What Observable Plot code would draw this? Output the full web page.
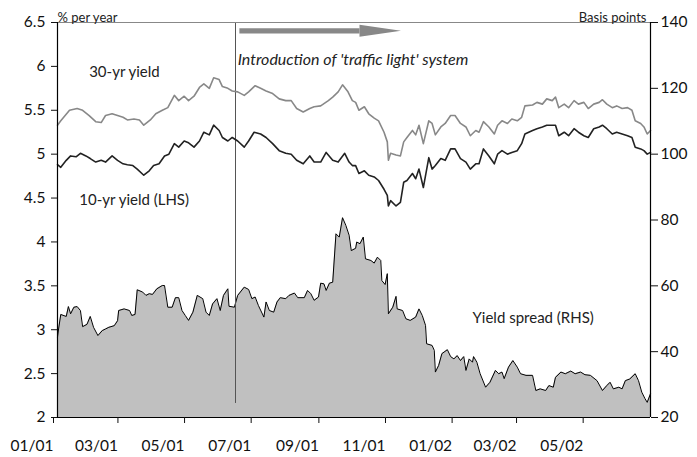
<!DOCTYPE html>
<html><head><meta charset="utf-8">
<script src="https://cdn.jsdelivr.net/npm/d3@7"></script>
<script src="https://cdn.jsdelivr.net/npm/@observablehq/plot@0.6"></script>
<style>
html,body{margin:0;padding:0;background:#fff;}
#chart svg{display:block;}
</style></head><body><div id="chart"></div>
<script>
// ---- Data ----
const dates30 = ["2001-01-01","2001-01-04","2001-01-12","2001-01-19","2001-01-24","2001-01-30","2001-02-05","2001-02-10","2001-02-14","2001-02-20","2001-02-25","2001-03-02","2001-03-06","2001-03-12","2001-03-17","2001-03-21","2001-03-27","2001-04-01","2001-04-07","2001-04-12","2001-04-18","2001-04-22","2001-04-27","2001-05-01","2001-05-06","2001-05-11","2001-05-15","2001-05-20","2001-05-24","2001-05-29","2001-06-01","2001-06-06","2001-06-10","2001-06-15","2001-06-21","2001-06-25","2001-07-01","2001-07-06","2001-07-11","2001-07-17","2001-07-23","2001-07-29","2001-08-03","2001-08-08","2001-08-14","2001-08-20","2001-08-24","2001-08-30","2001-09-06","2001-09-10","2001-09-15","2001-09-19","2001-09-24","2001-09-28","2001-10-01","2001-10-04","2001-10-09","2001-10-13","2001-10-18","2001-10-22","2001-10-27","2001-10-30","2001-10-31","2001-11-02","2001-11-07","2001-11-11","2001-11-14","2001-11-17","2001-11-22","2001-11-25","2001-11-28","2001-12-02","2001-12-07","2001-12-10","2001-12-13","2001-12-18","2001-12-22","2001-12-27","2001-12-31","2002-01-05","2002-01-10","2002-01-14","2002-01-19","2002-01-22","2002-01-26","2002-01-31","2002-02-05","2002-02-08","2002-02-12","2002-02-17","2002-02-21","2002-02-26","2002-03-02","2002-03-05","2002-03-12","2002-03-16","2002-03-21","2002-03-25","2002-03-30","2002-04-02","2002-04-05","2002-04-10","2002-04-14","2002-04-19","2002-04-23","2002-04-28","2002-05-02","2002-05-07","2002-05-12","2002-05-15","2002-05-19","2002-05-24","2002-05-28","2002-06-02","2002-06-07","2002-06-11","2002-06-14","2002-06-19","2002-06-22","2002-06-25","2002-06-28"];
const yield30 = [5.33,5.38,5.50,5.52,5.50,5.44,5.37,5.36,5.44,5.46,5.44,5.42,5.39,5.40,5.39,5.33,5.39,5.46,5.50,5.53,5.67,5.61,5.66,5.61,5.66,5.76,5.80,5.75,5.87,5.85,5.77,5.75,5.72,5.71,5.67,5.71,5.78,5.75,5.72,5.69,5.63,5.61,5.61,5.52,5.48,5.52,5.54,5.55,5.61,5.65,5.71,5.79,5.71,5.61,5.59,5.50,5.54,5.46,5.41,5.38,5.25,5.14,4.93,5.01,4.99,4.98,5.14,5.19,5.27,5.22,5.33,5.12,5.38,5.35,5.22,5.31,5.35,5.44,5.44,5.35,5.31,5.21,5.27,5.25,5.37,5.31,5.23,5.33,5.38,5.35,5.40,5.38,5.42,5.55,5.56,5.59,5.57,5.63,5.61,5.65,5.53,5.57,5.53,5.61,5.57,5.59,5.52,5.57,5.59,5.62,5.57,5.53,5.55,5.52,5.53,5.50,5.38,5.35,5.31,5.23,5.27];

const dates10 = ["2001-01-01","2001-01-04","2001-01-09","2001-01-13","2001-01-18","2001-01-22","2001-01-27","2001-01-31","2001-02-05","2001-02-10","2001-02-14","2001-02-20","2001-02-25","2001-03-02","2001-03-06","2001-03-11","2001-03-15","2001-03-21","2001-03-26","2001-03-30","2001-04-04","2001-04-09","2001-04-13","2001-04-18","2001-04-22","2001-04-27","2001-05-01","2001-05-06","2001-05-11","2001-05-15","2001-05-20","2001-05-24","2001-05-29","2001-06-01","2001-06-06","2001-06-10","2001-06-15","2001-06-21","2001-06-25","2001-06-30","2001-07-06","2001-07-11","2001-07-17","2001-07-23","2001-07-29","2001-08-03","2001-08-08","2001-08-14","2001-08-20","2001-08-24","2001-08-30","2001-09-04","2001-09-10","2001-09-15","2001-09-21","2001-09-25","2001-09-28","2001-10-01","2001-10-04","2001-10-09","2001-10-13","2001-10-18","2001-10-22","2001-10-27","2001-10-30","2001-10-31","2001-11-02","2001-11-07","2001-11-11","2001-11-14","2001-11-17","2001-11-22","2001-11-25","2001-11-28","2001-12-02","2001-12-07","2001-12-10","2001-12-13","2001-12-18","2001-12-22","2001-12-27","2001-12-31","2002-01-05","2002-01-10","2002-01-14","2002-01-19","2002-01-22","2002-01-26","2002-01-31","2002-02-05","2002-02-08","2002-02-12","2002-02-17","2002-02-21","2002-02-26","2002-03-02","2002-03-05","2002-03-12","2002-03-16","2002-03-21","2002-03-25","2002-03-30","2002-04-02","2002-04-05","2002-04-10","2002-04-14","2002-04-19","2002-04-23","2002-04-28","2002-05-02","2002-05-07","2002-05-12","2002-05-15","2002-05-19","2002-05-24","2002-05-28","2002-06-02","2002-06-07","2002-06-11","2002-06-14","2002-06-19","2002-06-22","2002-06-25","2002-06-28"];
const yield10 = [4.88,4.85,4.93,4.98,4.97,5.01,4.98,4.95,4.91,4.93,4.91,4.98,4.93,4.89,4.88,4.87,4.83,4.76,4.81,4.87,4.89,4.98,5.00,5.12,5.08,5.15,5.13,5.08,5.15,5.25,5.22,5.33,5.27,5.19,5.15,5.19,5.15,5.08,5.15,5.25,5.23,5.19,5.12,5.04,5.01,5.00,4.93,4.89,4.98,4.91,4.91,5.02,4.93,4.91,5.01,4.91,4.87,4.87,4.78,4.81,4.76,4.74,4.70,4.60,4.53,4.41,4.47,4.41,4.45,4.68,4.70,4.78,4.72,4.83,4.62,4.96,4.83,4.87,4.95,4.93,5.06,5.06,4.95,4.91,4.83,4.89,4.89,5.06,4.98,4.89,5.00,5.04,5.00,5.02,5.04,5.12,5.23,5.27,5.29,5.31,5.33,5.33,5.33,5.21,5.25,5.21,5.29,5.25,5.21,5.19,5.29,5.31,5.33,5.29,5.23,5.25,5.23,5.21,5.19,5.08,5.06,5.04,5.00,5.02];

const datesSpread = ["2001-01-01","2001-01-02","2001-01-04","2001-01-09","2001-01-11","2001-01-13","2001-01-16","2001-01-19","2001-01-22","2001-01-24","2001-01-28","2001-01-31","2001-02-03","2001-02-07","2001-02-11","2001-02-14","2001-02-17","2001-02-22","2001-02-25","2001-02-26","2001-03-03","2001-03-08","2001-03-10","2001-03-13","2001-03-15","2001-03-20","2001-03-23","2001-03-26","2001-03-29","2001-04-02","2001-04-07","2001-04-09","2001-04-12","2001-04-16","2001-04-19","2001-04-22","2001-04-25","2001-04-28","2001-05-01","2001-05-05","2001-05-09","2001-05-14","2001-05-17","2001-05-20","2001-05-23","2001-05-27","2001-05-30","2001-06-02","2001-06-06","2001-06-07","2001-06-12","2001-06-15","2001-06-21","2001-06-25","2001-06-28","2001-07-01","2001-07-04","2001-07-09","2001-07-11","2001-07-14","2001-07-18","2001-07-21","2001-07-24","2001-07-29","2001-08-01","2001-08-06","2001-08-09","2001-08-15","2001-08-18","2001-08-21","2001-08-24","2001-08-28","2001-08-30","2001-09-02","2001-09-04","2001-09-07","2001-09-10","2001-09-13","2001-09-16","2001-09-19","2001-09-22","2001-09-25","2001-09-27","2001-10-01","2001-10-02","2001-10-05","2001-10-08","2001-10-10","2001-10-15","2001-10-18","2001-10-21","2001-10-24","2001-10-25","2001-10-28","2001-10-30","2001-10-31","2001-11-04","2001-11-07","2001-11-08","2001-11-13","2001-11-16","2001-11-20","2001-11-25","2001-11-28","2001-12-01","2001-12-04","2001-12-05","2001-12-10","2001-12-12","2001-12-13","2001-12-16","2001-12-19","2001-12-24","2001-12-27","2001-12-30","2002-01-02","2002-01-05","2002-01-08","2002-01-10","2002-01-13","2002-01-16","2002-01-17","2002-01-20","2002-01-23","2002-01-28","2002-02-01","2002-02-06","2002-02-09","2002-02-12","2002-02-14","2002-02-18","2002-02-22","2002-02-26","2002-03-01","2002-03-06","2002-03-12","2002-03-15","2002-03-19","2002-03-24","2002-03-27","2002-03-31","2002-04-02","2002-04-07","2002-04-11","2002-04-16","2002-04-20","2002-04-25","2002-04-29","2002-05-04","2002-05-10","2002-05-15","2002-05-19","2002-05-22","2002-05-25","2002-05-30","2002-06-02","2002-06-05","2002-06-09","2002-06-14","2002-06-17","2002-06-20","2002-06-23","2002-06-25","2002-06-28"];
const spreadBp = [44.4,46.9,51.3,50.7,53.7,51.5,53.5,53.7,52.5,47.6,48.3,50.7,47.4,44.9,46.4,46.9,47.4,47.9,49.4,52.5,53.0,52.5,51.0,51.3,58.8,58.1,57.1,57.6,57.4,59.1,60.1,60.1,53.5,53.5,56.4,56.4,52.5,51.0,49.5,52.0,57.1,56.1,52.0,51.0,54.5,56.1,52.5,57.1,59.1,53.8,53.5,57.1,59.6,58.9,56.1,56.6,54.0,50.5,55.1,52.5,52.0,55.1,56.4,56.1,57.1,57.8,56.4,56.4,58.6,57.6,55.6,56.6,60.8,60.6,58.6,60.8,61.1,75.8,74.8,80.7,78.4,75.4,70.7,71.4,73.3,72.8,74.8,68.2,67.7,66.9,68.7,67.7,61.6,60.4,63.7,51.5,53.5,56.8,53.0,52.5,50.0,49.5,50.5,53.0,51.0,48.0,42.4,41.9,40.4,33.8,35.8,39.4,40.6,38.5,37.8,38.8,37.3,38.5,34.3,37.8,36.8,38.5,36.8,33.3,29.2,30.7,34.3,33.3,33.8,31.8,35.3,37.3,35.3,33.3,32.8,32.8,28.2,28.7,28.2,29.7,29.2,32.2,33.8,33.3,34.1,33.3,33.8,33.0,32.8,31.2,28.2,29.7,30.7,28.7,29.2,28.7,31.2,31.7,33.3,31.2,27.7,25.7,24.6,27.2];

const xDomain = ["2001-01-01", "2002-06-28"];
const xTickDates = ["2001-01-01","2001-03-01","2001-05-01","2001-07-01","2001-09-01","2001-11-01","2002-01-01","2002-03-01","2002-05-01"];
const xTickLabels = ["01/01","03/01","05/01","07/01","09/01","11/01","01/02","03/02","05/02"];
const leftTicks = [2, 2.5, 3, 3.5, 4, 4.5, 5, 5.5, 6, 6.5];
const leftTickLabels = ["2","2.5","3","3.5","4","4.5","5","5.5","6","6.5"];
const rightTicks = [20, 40, 60, 80, 100, 120, 140];
const rightTickLabels = ["20","40","60","80","100","120","140"];
const leftDomain = [2, 6.5];
const rightDomain = [20, 140];

// annotations (in data units)
const introDate = "2001-06-13";
const introRuleBottom = 2.16;
const arrowStart = "2001-06-17", arrowHeadBase = "2001-10-05", arrowTip = "2001-11-12";
const arrowY = 6.40, arrowHalfShaft = 0.03, arrowHalfHead = 0.068;

const seriesLabels = [
  {text: "30-yr yield", date: "2001-01-30", y: 5.93},
  {text: "10-yr yield (LHS)", date: "2001-01-21", y: 4.48},
  {text: "Yield spread (RHS)", date: "2002-01-16", y: 3.135}
];
const introLabel = {text: "Introduction of 'traffic light' system", date: "2001-06-15", y: 6.07};

// ---- Build ----
const parse = d3.utcParse("%Y-%m-%d");
const toLeft = bp => leftDomain[0] + (bp - rightDomain[0]) * (leftDomain[1] - leftDomain[0]) / (rightDomain[1] - rightDomain[0]);
const s30 = dates30.map((d, i) => ({date: parse(d), v: yield30[i]}));
const s10 = dates10.map((d, i) => ({date: parse(d), v: yield10[i]}));
const sp = datesSpread.map((d, i) => ({date: parse(d), v: toLeft(spreadBp[i])}));
const xTicks = xTickDates.map(parse);
const rightTicksL = rightTicks.map(toLeft);
const head = [
  {date: parse(arrowHeadBase), lo: arrowY - arrowHalfHead, hi: arrowY + arrowHalfHead},
  {date: parse(arrowTip), lo: arrowY, hi: arrowY}
];
const shaft = [
  {date: parse(arrowStart), lo: arrowY - arrowHalfShaft, hi: arrowY + arrowHalfShaft},
  {date: parse(arrowHeadBase), lo: arrowY - arrowHalfShaft, hi: arrowY + arrowHalfShaft}
];
const font = "Lato, 'Open Sans', sans-serif";

const chart = Plot.plot({
  width: 697, height: 457,
  marginLeft: 57, marginRight: 47, marginTop: 22, marginBottom: 40,
  style: {fontFamily: font, fontSize: "15px", background: "white", color: "#111", overflow: "visible"},
  x: {type: "utc", domain: xDomain.map(parse)},
  y: {domain: leftDomain},
  marks: [
    Plot.areaY(sp, {x: "date", y1: leftDomain[0], y2: "v", fill: "#c0c0c0"}),
    Plot.lineY(sp, {x: "date", y: "v", stroke: "#000", strokeWidth: 1}),
    Plot.ruleX([parse(introDate)], {y1: introRuleBottom, y2: leftDomain[1], stroke: "#555", strokeWidth: 1}),
    Plot.lineY(s30, {x: "date", y: "v", stroke: "#888", strokeWidth: 1.6}),
    Plot.lineY(s10, {x: "date", y: "v", stroke: "#222", strokeWidth: 1.6}),
    Plot.areaY(shaft, {x: "date", y1: "lo", y2: "hi", fill: "#888"}),
    Plot.areaY(head, {x: "date", y1: "lo", y2: "hi", fill: "#888"}),
    Plot.text(seriesLabels, {x: d => parse(d.date), y: "y", text: "text", textAnchor: "start", fontSize: 15, fill: "#222"}),
    Plot.text([introLabel], {x: d => parse(d.date), y: "y", text: "text", textAnchor: "start", fontSize: 16, fontStyle: "italic", fill: "#222"}),
    // frame lines
    Plot.ruleY([leftDomain[1]], {stroke: "#888", strokeWidth: 1}),
    Plot.ruleY([leftDomain[0]], {stroke: "#000", strokeWidth: 1.2}),
    Plot.ruleX([parse(xDomain[0])], {stroke: "#000", strokeWidth: 1.2}),
    Plot.ruleX([parse(xDomain[1])], {stroke: "#000", strokeWidth: 1.2}),
    // axes
    Plot.axisY(leftTicks, {anchor: "left", tickSize: 6, tickPadding: 6, fontSize: 15.5, label: null,
      tickFormat: v => leftTickLabels[leftTicks.indexOf(v)]}),
    Plot.axisY(rightTicksL, {anchor: "right", tickSize: 7, tickPadding: 3, fontSize: 15.5, label: null,
      tickFormat: v => rightTickLabels[rightTicksL.indexOf(v)]}),
    Plot.axisX(xTicks, {anchor: "bottom", tickSize: 6, tickPadding: 16, fontSize: 15.5, label: null,
      textAnchor: "end", dx: -4,
      tickFormat: d => xTickLabels[xTicks.findIndex(t => +t === +d)]}),
    Plot.text(["% per year"], {frameAnchor: "top-left", dy: -10, textAnchor: "start", fontSize: 13, fill: "#222"}),
    Plot.text(["Basis points"], {frameAnchor: "top-right", dx: -4, dy: -10, textAnchor: "end", fontSize: 13, fill: "#222"})
  ]
});
document.getElementById("chart").appendChild(chart);
</script></body></html>
